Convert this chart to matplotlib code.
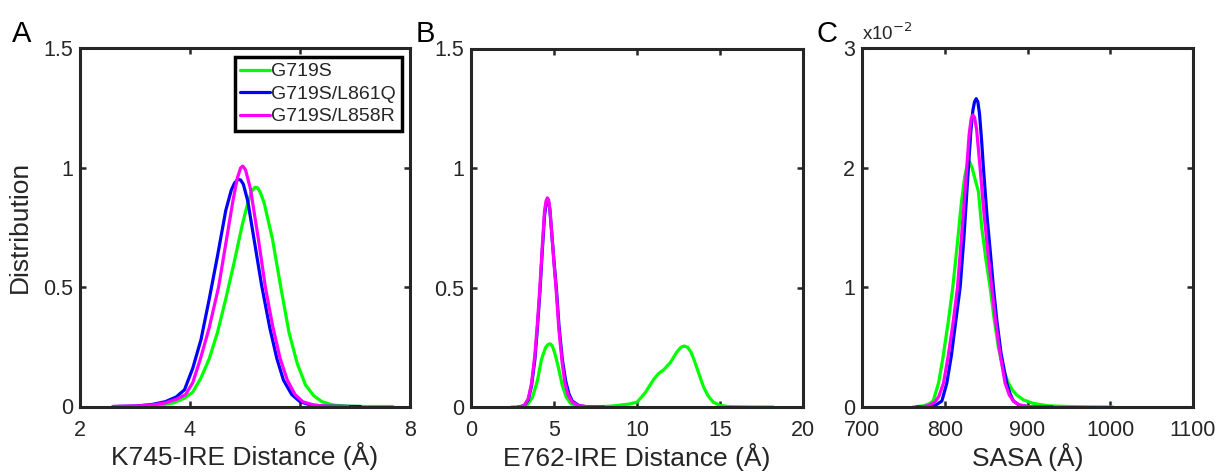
import matplotlib
matplotlib.use("Agg")
import matplotlib.pyplot as plt
from matplotlib.ticker import FuncFormatter

plt.rcParams['font.family'] = ['Liberation Sans', 'DejaVu Sans']

# ---------------- data ----------------
series_names = ["G719S", "G719S/L861Q", "G719S/L858R"]
series_colors = ["#00ff00", "#0000ff", "#ff00ff"]

# Panel A: K745-IRE distance
a_green_x = [3.0, 3.4, 3.7, 3.9, 4.05, 4.2, 4.35, 4.5, 4.65, 4.8, 4.95, 5.05, 5.12, 5.18, 5.23, 5.28, 5.35, 5.5, 5.65, 5.8, 5.95, 6.1, 6.25, 6.4, 6.6, 6.9, 7.2, 7.69]
a_green_y = [0, 0.004, 0.015, 0.035, 0.06, 0.12, 0.20, 0.31, 0.45, 0.6, 0.76, 0.85, 0.9, 0.917, 0.915, 0.895, 0.85, 0.7, 0.5, 0.31, 0.18, 0.09, 0.045, 0.02, 0.006, 0.001, 0, 0]
a_blue_x = [2.6, 3.0, 3.3, 3.55, 3.75, 3.9, 4.05, 4.2, 4.35, 4.5, 4.65, 4.75, 4.81, 4.87, 4.92, 4.97, 5.05, 5.2, 5.3, 5.45, 5.58, 5.7, 5.85, 6.0, 6.2, 6.5, 7.1]
a_blue_y = [0, 0.002, 0.008, 0.02, 0.04, 0.07, 0.16, 0.28, 0.45, 0.63, 0.82, 0.905, 0.935, 0.95, 0.948, 0.93, 0.86, 0.65, 0.51, 0.33, 0.2, 0.11, 0.05, 0.02, 0.006, 0.001, 0]
a_mag_x = [2.6, 3.0, 3.3, 3.55, 3.75, 3.92, 4.05, 4.19, 4.35, 4.52, 4.65, 4.78, 4.86, 4.92, 4.96, 5.01, 5.1, 5.25, 5.37, 5.5, 5.64, 5.77, 5.91, 6.05, 6.25, 6.5, 6.87]
a_mag_y = [0, 0.002, 0.006, 0.015, 0.03, 0.05, 0.1, 0.2, 0.33, 0.5, 0.68, 0.86, 0.955, 0.998, 1.006, 0.99, 0.91, 0.69, 0.5, 0.34, 0.2, 0.11, 0.05, 0.02, 0.006, 0.001, 0]

# Panel B: E762-IRE distance
b_green_x = [2.45, 3.0, 3.4, 3.7, 4.0, 4.25, 4.5, 4.65, 4.78, 4.9, 5.05, 5.25, 5.5, 5.75, 6.0, 6.5, 7.0, 7.5, 8.0, 8.5, 9.0, 9.5, 10.0, 10.5, 11.0, 11.3, 11.6, 12.0, 12.4, 12.65, 12.85, 13.05, 13.25, 13.45, 13.7, 14.0, 14.3, 14.6, 15.0, 15.5, 16.0, 17.0, 18.2]
b_green_y = [0, 0.001, 0.01, 0.04, 0.11, 0.2, 0.25, 0.262, 0.264, 0.255, 0.225, 0.17, 0.09, 0.04, 0.015, 0.003, 0.001, 0.001, 0.002, 0.004, 0.008, 0.012, 0.02, 0.06, 0.115, 0.14, 0.155, 0.185, 0.23, 0.25, 0.255, 0.25, 0.23, 0.195, 0.145, 0.085, 0.045, 0.02, 0.007, 0.002, 0.001, 0, 0]
b_blue_x = [2.85, 3.2, 3.45, 3.65, 3.85, 4.0, 4.15, 4.3, 4.43, 4.52, 4.6, 4.67, 4.75, 4.85, 5.0, 5.15, 5.3, 5.5, 5.7, 5.9, 6.1, 6.5, 7.0, 8.0]
b_blue_y = [0, 0.005, 0.03, 0.09, 0.2, 0.33, 0.48, 0.66, 0.8, 0.85, 0.865, 0.86, 0.825, 0.74, 0.61, 0.49, 0.34, 0.2, 0.11, 0.055, 0.025, 0.006, 0.001, 0]
b_mag_x = [2.85, 3.2, 3.45, 3.65, 3.85, 4.0, 4.15, 4.3, 4.43, 4.52, 4.6, 4.67, 4.75, 4.85, 5.0, 5.12, 5.3, 5.5, 5.66, 5.85, 6.1, 6.5, 7.0, 8.0]
b_mag_y = [0, 0.005, 0.035, 0.1, 0.22, 0.35, 0.5, 0.68, 0.82, 0.862, 0.875, 0.868, 0.83, 0.74, 0.6, 0.5, 0.32, 0.18, 0.1, 0.05, 0.02, 0.005, 0.001, 0]

# Panel C: SASA (values in units of 1e-2)
c_green_x = [762, 775, 782, 786, 792.5, 798, 804, 809.7, 815, 820, 824, 827, 830, 833, 836, 840.7, 844.7, 850, 854.8, 860, 864.8, 870, 876.9, 882, 887, 895, 907, 925, 950, 975, 1003]
c_green_y = [0, 0.01, 0.03, 0.05, 0.2, 0.42, 0.7, 1.0, 1.35, 1.7, 1.92, 2.02, 2.05, 2.0, 1.92, 1.8, 1.5, 1.22, 1.0, 0.72, 0.5, 0.33, 0.2, 0.14, 0.1, 0.06, 0.03, 0.01, 0.004, 0.001, 0]
c_blue_x = [766, 780, 790, 796.5, 802.5, 808, 813, 818.6, 823, 828.6, 831.5, 834, 836, 838, 840, 842, 844.5, 846.7, 851, 855, 858.8, 863, 868, 874.9, 879, 883, 890, 900, 915, 930]
c_blue_y = [0, 0.005, 0.02, 0.05, 0.2, 0.43, 0.7, 1.0, 1.4, 2.0, 2.3, 2.48, 2.55, 2.577, 2.55, 2.45, 2.23, 2.0, 1.6, 1.3, 1.0, 0.72, 0.45, 0.2, 0.11, 0.05, 0.015, 0.004, 0.001, 0]
c_mag_x = [770, 780, 788, 793, 798.5, 804, 810, 815.4, 820, 826.6, 829.5, 832, 834, 836, 838.5, 842.7, 847, 852, 856.8, 861, 866, 872.9, 878, 883, 890, 900, 915, 928]
c_mag_y = [0, 0.01, 0.04, 0.09, 0.2, 0.42, 0.7, 1.0, 1.4, 2.0, 2.28, 2.41, 2.44, 2.42, 2.32, 2.0, 1.65, 1.3, 1.0, 0.74, 0.48, 0.2, 0.1, 0.05, 0.018, 0.005, 0.001, 0]
c_scale = 1e-2

a_xticks = [2, 4, 6, 8]
ab_yticks = [0, 0.5, 1, 1.5]
b_xticks = [0, 5, 10, 15, 20]
c_xticks = [700, 800, 900, 1000, 1100]
c_yticks = [0, 1, 2, 3]

xlabels = ["K745-IRE Distance (Å)", "E762-IRE Distance (Å)", "SASA (Å)"]
panel_letters = ["A", "B", "C"]

# ---------------- figure ----------------
W, H = 1218, 475
fig = plt.figure(figsize=(W / 100, H / 100), dpi=100)

def px_axes(l, t, r, b):
    return fig.add_axes([l / W, 1 - b / H, (r - l) / W, (b - t) / H])

axA = px_axes(80, 48, 410, 406.5)
axB = px_axes(471, 48.5, 803, 407)
axC = px_axes(862, 48, 1193, 407)

dark = "#262626"
lw = 2.3

def style(ax):
    for s in ax.spines.values():
        s.set_linewidth(2.2)
        s.set_color(dark)
    ax.tick_params(direction="in", top=True, right=True, length=4, width=1.8,
                   colors=dark, labelsize=15.5, labelcolor=dark)
    ax.tick_params(axis="x", pad=9.5)
    ax.tick_params(axis="y", pad=5)

gfmt = FuncFormatter(lambda v, p: f"{v:g}")

def draw(ax, xs, ys, c, label=None, scale=1.0):
    ax.plot(xs, [v * scale for v in ys], color=c, lw=lw, label=label,
            solid_capstyle="round", solid_joinstyle="round")

# A
draw(axA, a_green_x, a_green_y, series_colors[0], series_names[0])
draw(axA, a_blue_x, a_blue_y, series_colors[1], series_names[1])
draw(axA, a_mag_x, a_mag_y, series_colors[2], series_names[2])
axA.set_xlim(2, 8)
axA.set_ylim(0, 1.5)
axA.set_xticks(a_xticks)
axA.set_yticks(ab_yticks)
axA.yaxis.set_major_formatter(gfmt)
axA.set_ylabel("Distribution", fontsize=19, color=dark, labelpad=8)
leg = axA.legend(loc="upper right", bbox_to_anchor=(0.976, 0.975), borderaxespad=0,
                 fancybox=False, edgecolor="black", fontsize=14, handlelength=1.5,
                 handletextpad=0.1, labelspacing=0.25, borderpad=0.3, framealpha=1)
leg.get_frame().set_linewidth(2.5)
for t in leg.get_texts():
    t.set_color(dark)

# B
draw(axB, b_green_x, b_green_y, series_colors[0])
draw(axB, b_blue_x, b_blue_y, series_colors[1])
draw(axB, b_mag_x, b_mag_y, series_colors[2])
axB.set_xlim(0, 20)
axB.set_ylim(0, 1.5)
axB.set_xticks(b_xticks)
axB.set_yticks(ab_yticks)
axB.yaxis.set_major_formatter(gfmt)

# C
draw(axC, c_green_x, c_green_y, series_colors[0], scale=c_scale)
draw(axC, c_blue_x, c_blue_y, series_colors[1], scale=c_scale)
draw(axC, c_mag_x, c_mag_y, series_colors[2], scale=c_scale)
axC.set_xlim(700, 1100)
axC.set_ylim(0, 3 * c_scale)
axC.set_xticks(c_xticks)
axC.set_yticks([v * c_scale for v in c_yticks])
axC.yaxis.set_major_formatter(FuncFormatter(lambda v, p: f"{v / c_scale:g}"))
axC.text(0.0, 1.012, "x10$^{-2}$", transform=axC.transAxes, fontsize=13.5,
         color=dark, ha="left", va="bottom")

for ax, xl in zip([axA, axB, axC], xlabels):
    style(ax)
    ax.set_xlabel(xl, fontsize=19, color=dark, labelpad=1)

for x, y, letter in [(12, 42, "A"), (416, 42, "B"), (816, 42, "C")]:
    fig.text(x / W, 1 - y / H, letter, fontsize=21, color="black", ha="left", va="baseline")

fig.savefig("out.png", dpi=100)
